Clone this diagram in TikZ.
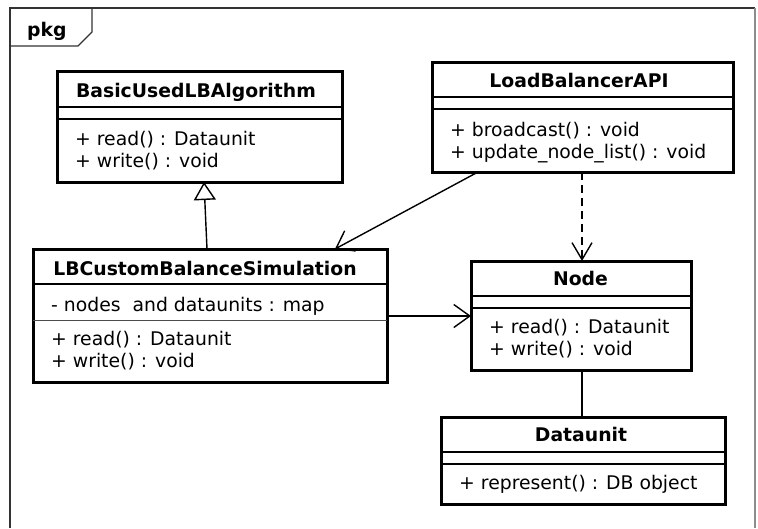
\documentclass[tikz,border=0pt]{standalone}
\usepackage{fontspec}
\setmainfont{DejaVu Sans}
\usetikzlibrary{arrows.meta}
\begin{document}
\begin{tikzpicture}[x=1pt,y=-1pt,
  classbox/.style={draw=black, line width=3pt, fill=white, inner sep=0pt, outer sep=0pt},
  divider/.style={draw=black, line width=1.4pt},
  classname/.style={font=\fontsize{18.8}{22}\selectfont\bfseries, inner sep=0pt, anchor=base},
  member/.style={font=\fontsize{18.8}{22}\selectfont, inner sep=0pt, anchor=base west},
  conn/.style={draw=black, line width=1.4pt},
  openarrow/.style={-{Straight Barb[length=16pt, width=23pt, line width=1.4pt]}},
  framecol/.style={draw=black!80, line width=2pt}
]
\useasboundingbox (0,0) rectangle (758,528);

% package frame and its tab
\draw[framecol] (10,528) -- (10,8) -- (755,8);
\draw[draw=black!45, line width=2pt] (755,8) -- (755,528);
\draw[framecol, line width=1.3pt] (10,46) -- (78,46) -- (92,32) -- (92,8);
\node[classname, anchor=base west] (pkg) at (27,36) {pkg};

% class BasicUsedLBAlgorithm
\node[classbox, minimum width=285pt, minimum height=111pt] (basic) at (199.5,126.5) {};
\node[classname] (basicname) at (196,97) {BasicUsedLBAlgorithm};
\draw[divider] (57,107) -- (342,107);
\draw[divider] (57,119) -- (342,119);
\node[member] (basicm1) at (75,145.5) {+ read() : Dataunit};
\node[member] (basicm2) at (75,167.5) {+ write() : void};

% class LoadBalancerAPI
\node[classbox, minimum width=301pt, minimum height=110pt] (lbapi) at (582.5,117) {};
\node[classname] (lbapiname) at (579,87) {LoadBalancerAPI};
\draw[divider] (432,97) -- (733,97);
\draw[divider] (432,109) -- (733,109);
\node[member] (lbapim1) at (450,136) {+ broadcast() : void};
\node[member] (lbapim2) at (450,158) {+ update\_node\_list() : void};

% class LBCustomBalanceSimulation
\node[classbox, minimum width=354pt, minimum height=133pt] (lbc) at (210,315.5) {};
\node[classname] (lbcname) at (205,275) {LBCustomBalanceSimulation};
\draw[divider] (33,284) -- (387,284);
\draw[divider, line width=0.8pt, draw=black!70] (33,320) -- (387,320);
\node[member] (lbca1) at (51,311) {- nodes\ \ and dataunits : map};
\node[member] (lbcm1) at (51,345) {+ read() : Dataunit};
\node[member] (lbcm2) at (51,367) {+ write() : void};

% class Node
\node[classbox, minimum width=220pt, minimum height=109pt] (nodecls) at (581,315.5) {};
\node[classname] (nodename) at (580.5,285.5) {Node};
\draw[divider] (471,296) -- (691,296);
\draw[divider] (471,308) -- (691,308);
\node[member] (nodem1) at (489,333) {+ read() : Dataunit};
\node[member] (nodem2) at (489,355) {+ write() : void};

% class Dataunit
\node[classbox, minimum width=284pt, minimum height=87pt] (dataunit) at (583,460.5) {};
\node[classname] (dataname) at (581,441.5) {Dataunit};
\draw[divider] (441,452) -- (725,452);
\draw[divider] (441,464) -- (725,464);
\node[member] (datam1) at (459,489) {+ represent() : DB object};

% generalization
\draw[conn, -{Triangle[open, length=18pt, width=22pt, line width=1.4pt]}]
  ([xshift=174pt]lbc.north west) -- ([xshift=147pt]basic.south west);
% associations
\draw[conn, openarrow]
  ([xshift=46pt]lbapi.south west) -- ([xshift=302pt]lbc.north west);
\draw[conn, openarrow]
  ([yshift=-67pt]lbc.north east) -- ([yshift=-55pt]nodecls.north west);
% dependency
\draw[conn, dash pattern=on 8pt off 5pt, -{Straight Barb[length=17pt, width=20pt, line width=1.4pt]}]
  ([xshift=150pt]lbapi.south west) -- ([xshift=111pt]nodecls.north west);
% plain link
\draw[conn] ([xshift=111pt]nodecls.south west) -- ([xshift=141pt]dataunit.north west);
\end{tikzpicture}
\end{document}
